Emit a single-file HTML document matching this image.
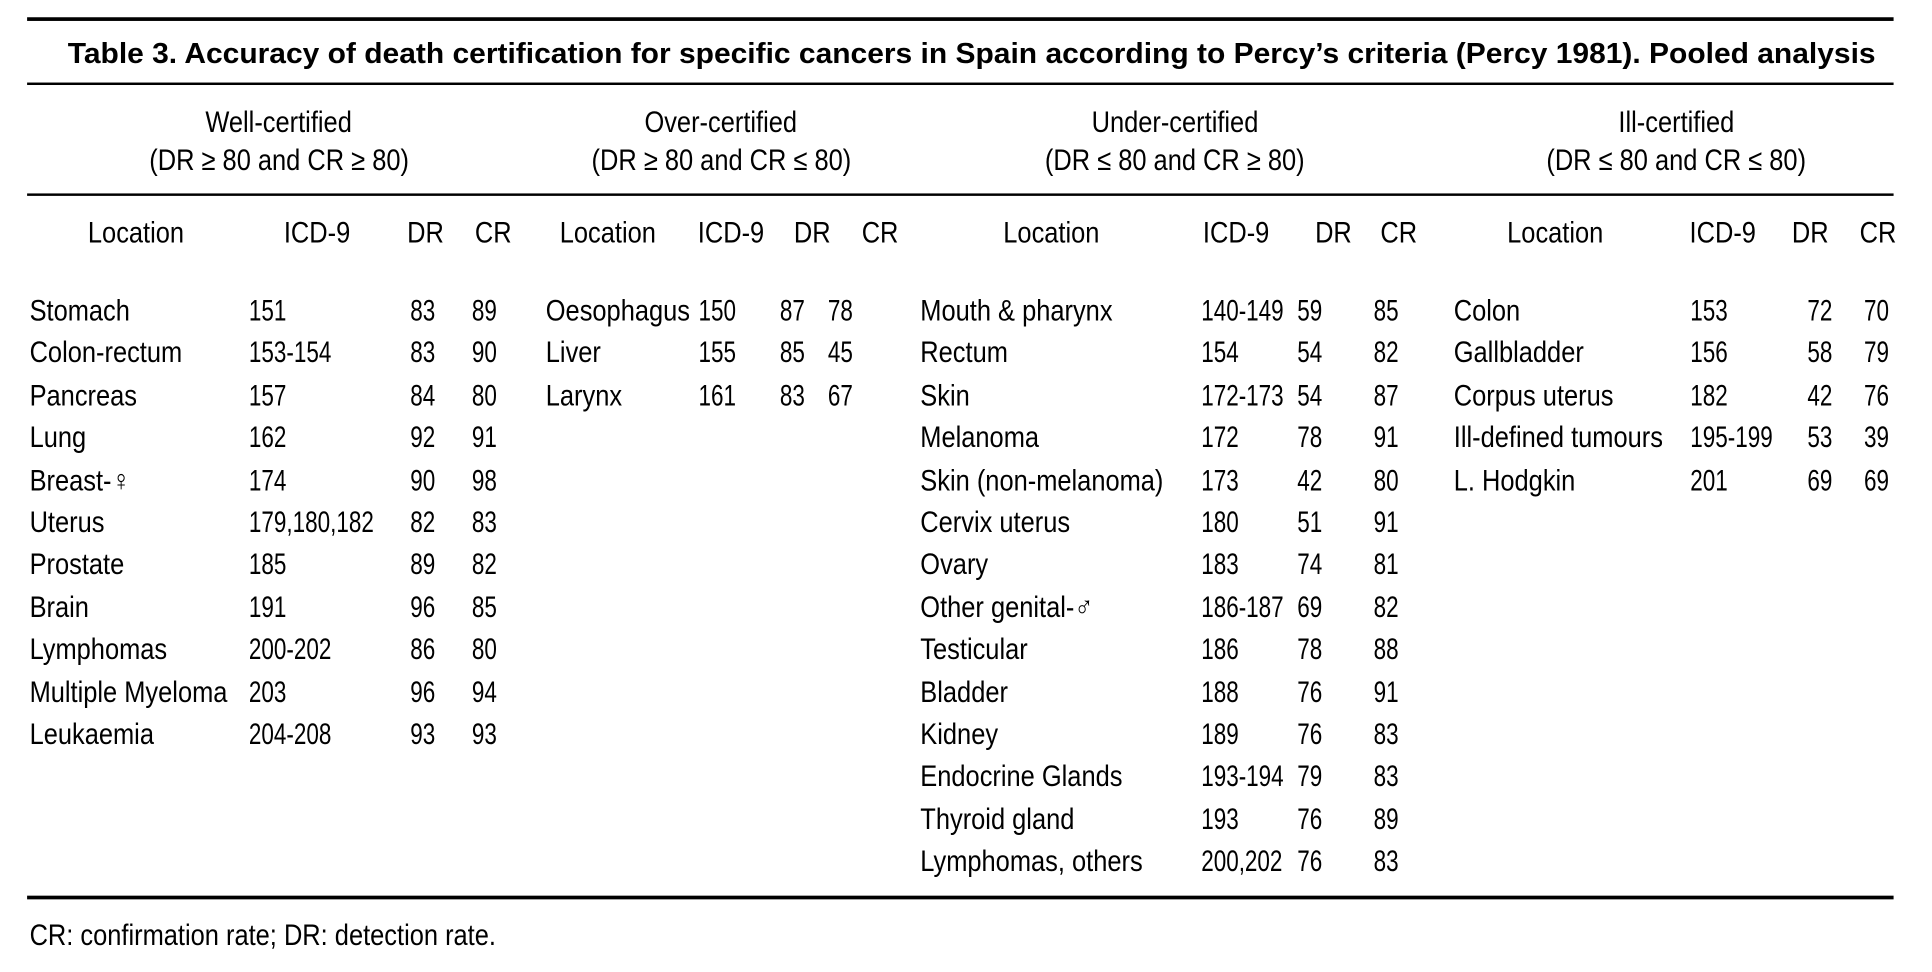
<!DOCTYPE html>
<html><head><meta charset="utf-8">
<style>
html,body{margin:0;padding:0;background:#fff;}
body{width:1932px;height:972px;overflow:hidden;position:relative;}
#wrap{position:absolute;left:0;top:0;width:1568px;height:789px;transform:scale(1.232);transform-origin:0 0;font-family:"Liberation Sans",Arial,sans-serif;color:#000;}
.rule{position:absolute;left:22px;width:1515px;background:#000;}
.t{position:absolute;white-space:nowrap;font-size:24px;line-height:24px;transform:scaleX(0.86);transform-origin:0 50%;}
.n{transform:scaleX(0.76);}
.c{transform-origin:50% 50%;}
#title{position:absolute;top:31px;left:55px;font-weight:bold;font-size:23px;line-height:24px;white-space:nowrap;transform-origin:0 50%;}
</style></head><body>
<div id="wrap">
<div class="rule" style="top:14px;height:3px"></div>
<div id="title">Table 3. Accuracy of death certification for specific cancers in Spain according to Percy’s criteria (Percy 1981). Pooled analysis</div>
<div class="rule" style="top:67px;height:2px"></div>
<div class="rule" style="top:157px;height:2px"></div>
<div class="rule" style="top:727px;height:3px"></div>
<div class="t" style="left:24px;top:748px">CR: confirmation rate; DR: detection rate.</div>
</div>
<script>
const groupTitles=["Well-certified","Over-certified","Under-certified","Ill-certified"];
const groupCriteria=["(DR ≥  80 and CR ≥ 80)","(DR ≥ 80 and CR ≤ 80)","(DR ≤ 80 and CR ≥ 80)","(DR ≤ 80 and CR ≤ 80)"];
const wellRows=[["Stomach","151","83","89"],["Colon-rectum","153-154","83","90"],["Pancreas","157","84","80"],["Lung","162","92","91"],["Breast-♀","174","90","98"],["Uterus","179,180,182","82","83"],["Prostate","185","89","82"],["Brain","191","96","85"],["Lymphomas","200-202","86","80"],["Multiple Myeloma","203","96","94"],["Leukaemia","204-208","93","93"]];
const overRows=[["Oesophagus","150","87","78"],["Liver","155","85","45"],["Larynx","161","83","67"]];
const underRows=[["Mouth & pharynx","140-149","59","85"],["Rectum","154","54","82"],["Skin","172-173","54","87"],["Melanoma","172","78","91"],["Skin (non-melanoma)","173","42","80"],["Cervix uterus","180","51","91"],["Ovary","183","74","81"],["Other genital-♂","186-187","69","82"],["Testicular","186","78","88"],["Bladder","188","76","91"],["Kidney","189","76","83"],["Endocrine Glands","193-194","79","83"],["Thyroid gland","193","76","89"],["Lymphomas, others","200,202","76","83"]];
const illRows=[["Colon","153","72","70"],["Gallbladder","156","58","79"],["Corpus uterus","182","42","76"],["Ill-defined tumours","195-199","53","39"],["L. Hodgkin","201","69","69"]];
const colHeads=["Location","ICD-9","DR","CR"];
const groups=[wellRows,overRows,underRows,illRows];
const groupKeys=["well","over","under","ill"];
const colX=[[24,202,333,383],[443,567,633,672],[747,975,1053,1115],[1180,1372,1467,1513]];
const headX=[[110,257,345,400],[493,593,659,714],[853,1003,1082,1135],[1262,1398,1469,1524]];
const groupCX=[226,585,953,1360];
const W=document.getElementById('wrap');
function txt(s,x,y,center,num){const d=document.createElement('div');d.className='t'+(center?' c':'')+(num?' n':'');d.textContent=s;d.style.top=(y-12)+'px';W.appendChild(d);if(center){d.style.left='0px';const w=d.offsetWidth;d.style.left=(x-w/2)+'px';}else d.style.left=x+'px';return d;}
groups.forEach((rows,g)=>{
  const a=txt(groupTitles[g],groupCX[g],100,true,false);
  
  
  const b=txt(groupCriteria[g],groupCX[g],131,true,false);
  
  
  colHeads.forEach((h,k)=>{const e=txt(h,headX[g][k],190,true,false);
    
    });
  rows.forEach((r,i)=>{r.forEach((v,k)=>{const e=txt(v,colX[g][k],253+i*34.4,false,k>0);
    
    });});
});
const T=document.getElementById('title');const tw=T.offsetWidth;T.style.transform='scaleX('+(1467/tw)+')';
</script>
</body></html>
